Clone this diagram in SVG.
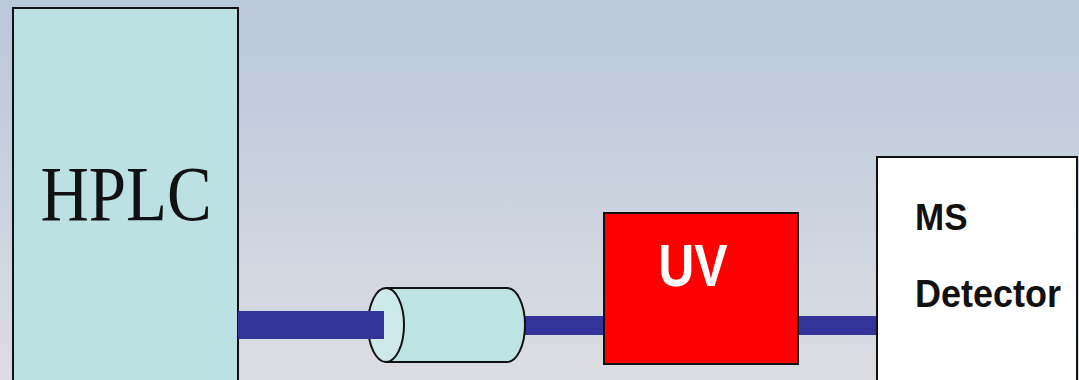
<svg xmlns="http://www.w3.org/2000/svg" width="1079" height="380" viewBox="0 0 1079 380">
<defs>
<linearGradient id="bg" x1="0" y1="0" x2="0" y2="1">
<stop offset="0" stop-color="#b9c8da"/>
<stop offset="0.5" stop-color="#cad2de"/>
<stop offset="1" stop-color="#dcdde2"/>
</linearGradient>
</defs>
<style>
.pipe{fill:#333399}
.box{stroke:#111;stroke-width:2}
.sans{font-family:"Liberation Sans",Arial,sans-serif;font-weight:bold}
</style>
<rect width="1079" height="380" fill="url(#bg)"/>
<g id="connectors">
<rect class="pipe" x="520" y="316" width="86" height="19"/>
<rect class="pipe" x="796" y="316" width="82" height="19"/>
</g>
<g id="hplc">
<rect class="box" x="13" y="8" width="225" height="380" fill="#bbe1e3"/>
<text transform="translate(126,220) scale(1,1.17)" text-anchor="middle" font-family="'Liberation Serif','Times New Roman',serif" font-size="67" fill="#111">HPLC</text>
</g>
<g id="column">
<path d="M386,288 L507,288 A18,37 0 0 1 507,362 L386,362 Z" fill="#bde3e3" stroke="#111" stroke-width="2"/>
<ellipse cx="386" cy="325" rx="18" ry="37" fill="#cde9ea" stroke="#111" stroke-width="2"/>
<rect class="pipe" x="238" y="311" width="146" height="28"/>
</g>
<g id="uv">
<rect class="box" x="604" y="213" width="194" height="151" fill="#ff0000" stroke-width="3"/>
<text class="sans" transform="translate(693,286) scale(1,1.2)" text-anchor="middle" font-size="50" fill="#fff">UV</text>
</g>
<g id="ms">
<rect class="box" x="877" y="157" width="200" height="230" fill="#ffffff"/>
<text class="sans" transform="translate(915,230) scale(1,1.06)" font-size="35" fill="#111">MS</text>
<text class="sans" transform="translate(915,307) scale(1,1.06)" font-size="36" fill="#111">Detector</text>
</g>
</svg>
